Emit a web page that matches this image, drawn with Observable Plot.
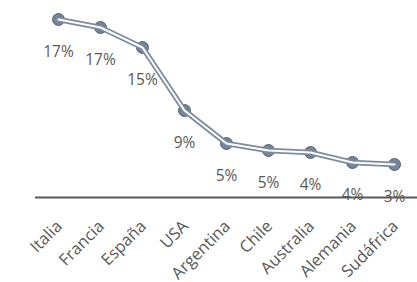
<!DOCTYPE html>
<html>
<head>
<meta charset="utf-8">
<script src="https://cdn.jsdelivr.net/npm/d3@7"></script>
<script src="https://cdn.jsdelivr.net/npm/@observablehq/plot@0.6"></script>
<style>
  html, body { margin: 0; padding: 0; background: #fff; }
  #chart svg { display: block; overflow: visible; }
</style>
</head>
<body>
<div id="chart"></div>
<script>
const categories = ["Italia", "Francia", "España", "USA", "Argentina", "Chile", "Australia", "Alemania", "Sudáfrica"];
const values = [17.8, 17.0, 15.0, 8.7, 5.4, 4.7, 4.5, 3.5, 3.3];
const labels = ["17%", "17%", "15%", "9%", "5%", "5%", "4%", "4%", "3%"];

const data = categories.map((c, i) => ({cat: c, v: values[i], label: labels[i]}));
const font = "'Open Sans', 'Noto Sans', sans-serif";

const chart = Plot.plot({
  width: 417,
  height: 282,
  marginLeft: 35,
  marginRight: 0,
  marginTop: 17,
  marginBottom: 85,
  style: {fontFamily: font, background: "#fff", overflow: "visible"},
  x: {type: "point", domain: categories, padding: 0.52, axis: null},
  y: {domain: [0, 18], axis: null},
  marks: [
    Plot.text(categories, {x: d => d, y: () => 0, text: d => d, rotate: -45, textAnchor: "end", lineAnchor: "middle", dy: 26, dx: 1, fontSize: 16.5, fill: "#595959", fontFamily: font}),
    Plot.ruleY([0], {stroke: "#595959", strokeWidth: 2}),
    Plot.dot(data, {x: "cat", y: "v", r: 6, fill: "#6d7c92", stroke: "#56657a", strokeWidth: 1, fillOpacity: 0.95}),
    Plot.line(data, {x: "cat", y: "v", stroke: "#7d8ba1", strokeWidth: 5.5}),
    Plot.line(data, {x: "cat", y: "v", stroke: "#ffffff", strokeWidth: 2}),
    Plot.text(data, {x: "cat", y: "v", text: "label", dy: 33, fontSize: 15.5, fill: "#595959", fontFamily: font})
  ]
});
document.getElementById("chart").appendChild(chart);
</script>
</body>
</html>
